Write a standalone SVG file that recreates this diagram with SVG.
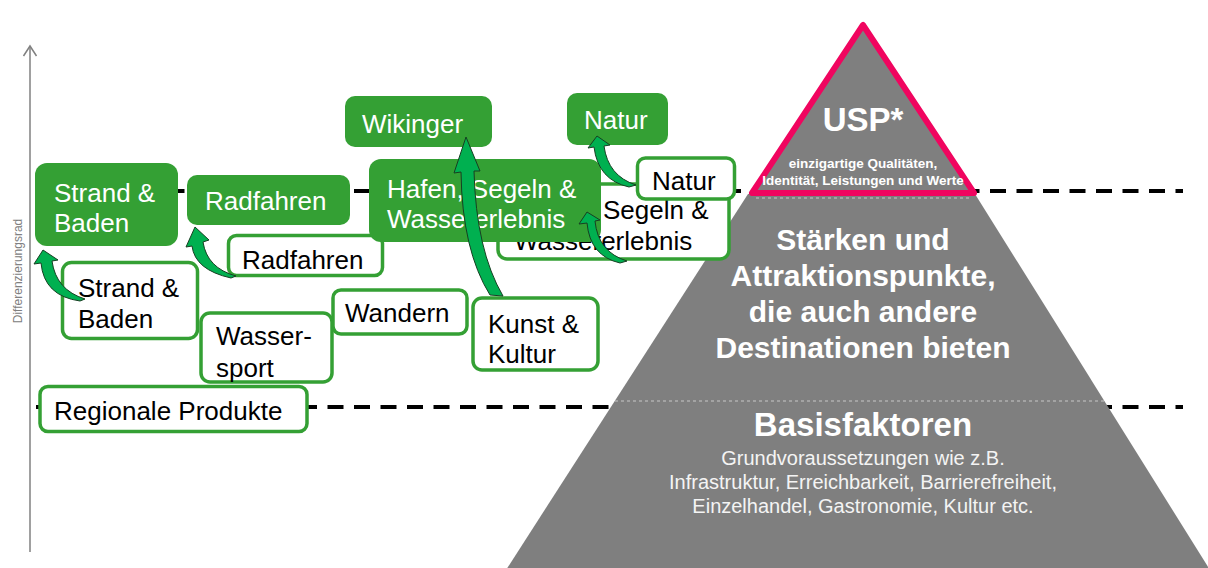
<svg xmlns="http://www.w3.org/2000/svg" width="1208" height="568" viewBox="0 0 1208 568">
<style>
.axis{stroke:#808080;stroke-width:1.5;fill:none}
.axlbl{font-family:"Liberation Sans",Arial,sans-serif;font-size:12px;fill:#808080}
.dash{stroke:#000;stroke-width:4;stroke-dasharray:16 10.5;fill:none}
.faint{stroke:#c8c8c8;stroke-width:1;stroke-dasharray:3 3;fill:none}
.gbox{fill:#34A034}
.wbox{fill:#fff;stroke:#34A034;stroke-width:3.5}
.gt{font-family:"Liberation Sans",Arial,sans-serif;font-size:26px;fill:#fff}
.wt{font-family:"Liberation Sans",Arial,sans-serif;font-size:26px;fill:#000}
.arr{fill:#00B050;stroke:#173f22;stroke-width:1;stroke-linejoin:round}
.pyr{fill:#7F7F7F}
.pb{font-family:"Liberation Sans",Arial,sans-serif;font-weight:bold;fill:#fff;text-anchor:middle}
.ps{font-family:"Liberation Sans",Arial,sans-serif;fill:#f4f4f4;text-anchor:middle;font-size:20px}
</style>

<g id="axis">
<line class="axis" x1="30" y1="46" x2="30" y2="552"/>
<polyline class="axis" points="23.5,56 30,46 36.5,56"/>
<text class="axlbl" transform="translate(21.5,271) rotate(-90)" text-anchor="middle">Differenzierungsrad</text>
</g>

<g id="levels">
<line class="dash" x1="36" y1="191" x2="1183" y2="191"/>
<line class="dash" x1="36" y1="407" x2="1183" y2="407"/>
</g>

<g id="pyramid">
<polygon class="pyr" points="748,194 975,194 1210,570 506,570"/>
<line class="faint" x1="756" y1="198" x2="972" y2="198"/>
<line class="faint" x1="615" y1="401" x2="1105" y2="401"/>
<text class="pb" font-size="30" x="863" y="250">Stärken und</text>
<text class="pb" font-size="30" x="863" y="286">Attraktionspunkte,</text>
<text class="pb" font-size="30" x="863" y="322">die auch andere</text>
<text class="pb" font-size="30" x="863" y="358">Destinationen bieten</text>
<text class="pb" font-size="33" x="863" y="436">Basisfaktoren</text>
<text class="ps" x="863" y="465">Grundvoraussetzungen wie z.B.</text>
<text class="ps" x="863" y="489">Infrastruktur, Erreichbarkeit, Barrierefreiheit,</text>
<text class="ps" x="863" y="513">Einzelhandel, Gastronomie, Kultur etc.</text>
</g>

<g id="usp">
<polygon points="863,25 752,193 974,193" fill="#7F7F7F" stroke="#F0055F" stroke-width="6" stroke-linejoin="round"/>
<text class="pb" font-size="33" x="863" y="131">USP*</text>
<text class="pb" font-size="13.5" x="863" y="168">einzigartige Qualitäten,</text>
<text class="pb" font-size="13.5" x="863" y="185">Identität, Leistungen und Werte</text>
</g>

<g id="regional">
<rect class="wbox" x="40" y="386.5" width="267" height="45" rx="8"/>
<text class="wt" x="54" y="420">Regionale Produkte</text>
</g>
<g id="strand-white">
<rect class="wbox" x="62.5" y="262.5" width="135" height="76" rx="9"/>
<text class="wt" x="78" y="297">Strand &amp;</text>
<text class="wt" x="78" y="328">Baden</text>
</g>
<g id="wassersport">
<rect class="wbox" x="201" y="313" width="131" height="69" rx="9"/>
<text class="wt" x="216" y="345">Wasser-</text>
<text class="wt" x="216" y="377">sport</text>
</g>
<g id="wandern">
<rect class="wbox" x="333" y="290" width="134" height="44" rx="8"/>
<text class="wt" x="345" y="322">Wandern</text>
</g>
<g id="kunst">
<rect class="wbox" x="473" y="298" width="125" height="72" rx="9"/>
<text class="wt" x="488" y="333">Kunst &amp;</text>
<text class="wt" x="488" y="363">Kultur</text>
</g>
<g id="radfahren-white">
<rect class="wbox" x="228.5" y="235.5" width="154" height="40" rx="8"/>
<text class="wt" x="242" y="269">Radfahren</text>
</g>
<g id="segeln-white">
<rect class="wbox" x="498" y="184" width="231" height="75" rx="9"/>
<text class="wt" x="603" y="219">Segeln &amp;</text>
<text class="wt" x="514" y="250">Wassererlebnis</text>
</g>
<g id="natur-white">
<rect class="wbox" x="637.5" y="158" width="97" height="41" rx="8"/>
<text class="wt" x="652" y="190">Natur</text>
</g>

<g id="strand-green">
<rect class="gbox" x="35" y="163" width="143" height="83" rx="12"/>
<text class="gt" x="54" y="202">Strand &amp;</text>
<text class="gt" x="54" y="232">Baden</text>
</g>
<g id="radfahren-green">
<rect class="gbox" x="187" y="175" width="163" height="50" rx="10"/>
<text class="gt" x="205" y="210">Radfahren</text>
</g>
<g id="hafen-green">
<rect class="gbox" x="369" y="159" width="232" height="83" rx="12"/>
<text class="gt" x="387" y="198">Hafen, Segeln &amp;</text>
<text class="gt" x="387" y="228">Wassererlebnis</text>
</g>
<g id="wikinger-green">
<rect class="gbox" x="345" y="96" width="147" height="51" rx="10"/>
<text class="gt" x="362" y="133">Wikinger</text>
</g>
<g id="natur-green">
<rect class="gbox" x="567" y="93" width="101" height="52" rx="10"/>
<text class="gt" x="584" y="129">Natur</text>
</g>

<g id="connectors">
<path class="arr" d="M43,250 L58,260 L52,261 Q56,290 85,299 L80,301 Q44,296 41,263 L34,264 Z"/>
<path class="arr" d="M195,227 L209,240 L203,242 Q207,268 236,276 L231,278 Q195,270 192,246 L186,247 Z"/>
<path class="arr" d="M466,137 L480,171 L474,171 Q476,250 503,296 L490,295 Q462,250 461,172 L454,173 Z"/>
<path class="arr" d="M587,212 L600,220 L595,221 Q598,252 627,261 L620,263 Q590,256 587,223 L579,224 Z"/>
<path class="arr" d="M597,136 L610,145 L604,146 Q608,176 636,185 L629,187 Q598,180 594,147 L588,148 Z"/>
</g>
</svg>
